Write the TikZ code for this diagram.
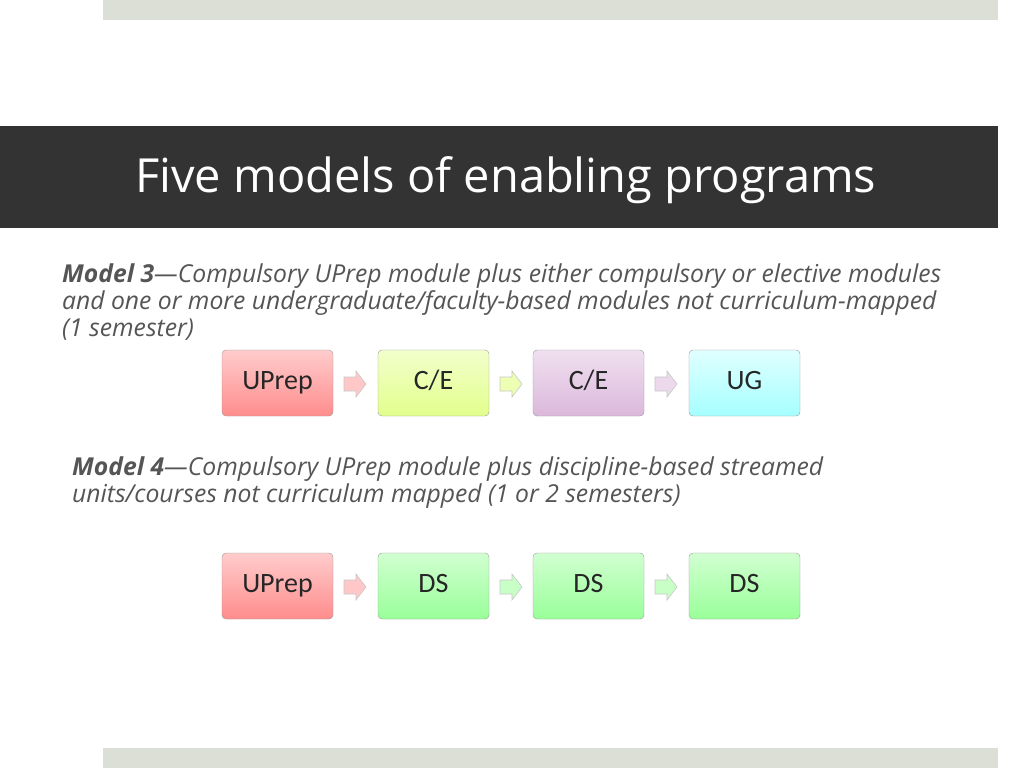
\documentclass[tikz,border=0pt]{standalone}
\usepackage{fontspec}
\setmainfont{Open Sans}
\newfontfamily\boxfont{Carlito}
\definecolor{bar}{HTML}{333333}
\definecolor{pale}{HTML}{DCDFD6}
\definecolor{body}{HTML}{555555}
\tikzset{
 mbox/.style={draw=black!40,rounded corners=4pt,minimum width=111pt,minimum height=66pt,text height=18pt,text depth=5pt,font=\boxfont\fontsize{28}{28}\selectfont,text=black!85},
 pinkbox/.style={mbox,top color=red!20,bottom color=red!45!white},
 greenbox/.style={mbox,top color=lime!20,bottom color=lime!45!white},
 purplebox/.style={mbox,top color=violet!12,bottom color=violet!28!white},
 bluebox/.style={mbox,top color=cyan!12,bottom color=cyan!35!white},
 dsbox/.style={mbox,top color=green!18,bottom color=green!40!white},
 arrfill/.style={draw=black!22,line width=0.6pt},
 para/.style={anchor=north west,align=left,text=body,font=\itshape\fontsize{24.7}{27}\selectfont}
}
\newcommand{\myarrow}[3]{\draw[arrfill,fill=#3] (#1-11,#2-7) -- (#1+1,#2-7) -- (#1+1,#2-13) -- (#1+11,#2) -- (#1+1,#2+13) -- (#1+1,#2+7) -- (#1-11,#2+7) -- cycle;}
\begin{document}
\begin{tikzpicture}[x=1pt,y=-1pt]
\useasboundingbox (0,0) rectangle (1024,768);
\fill[pale] (103,0) rectangle (998,20);
\fill[pale] (103,748) rectangle (998,768);
\fill[bar] (0,126) rectangle (998,228);
\node[anchor=west,text=white,font=\fontsize{47}{47}\selectfont,inner sep=0pt] (title) at (135,180) {Five models of enabling programs};
\node[para,inner sep=0pt] (m3) at (62,264) {\textbf{Model 3}---Compulsory UPrep module plus either compulsory or elective modules\\and one or more undergraduate/faculty-based modules not curriculum-mapped\\(1 semester)};
\node[pinkbox] (a1) at (277.5,383) {UPrep};
\node[greenbox] (a2) at (433.5,383) {C/E};
\node[purplebox] (a3) at (588.5,383) {C/E};
\node[bluebox] (a4) at (744.5,383) {UG};
\myarrow{355}{384}{red!22}
\myarrow{511}{384}{lime!30}
\myarrow{666}{384}{violet!15}
\node[para,inner sep=0pt] (m4) at (72,457) {\textbf{Model 4}---Compulsory UPrep module plus discipline-based streamed\\units/courses not curriculum mapped (1 or 2 semesters)};
\node[pinkbox] (b1) at (277.5,586) {UPrep};
\node[dsbox] (b2) at (433.5,586) {DS};
\node[dsbox] (b3) at (588.5,586) {DS};
\node[dsbox] (b4) at (744.5,586) {DS};
\myarrow{355}{587}{red!22}
\myarrow{511}{587}{green!22}
\myarrow{666}{587}{green!22}
\end{tikzpicture}
\end{document}
